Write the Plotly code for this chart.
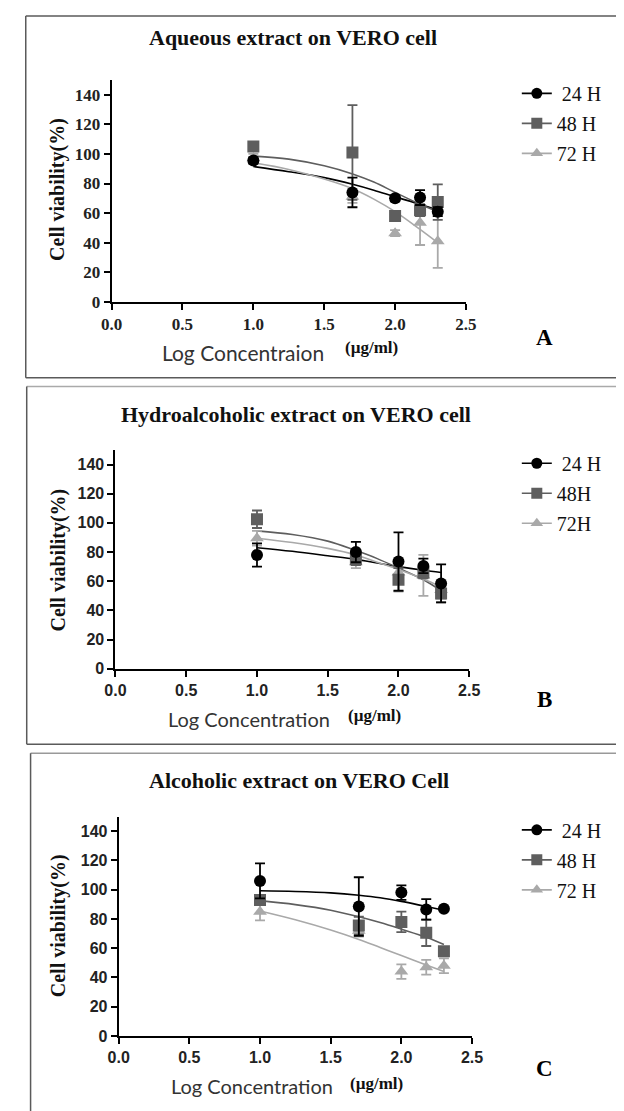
import plotly.graph_objects as go

W, H = 624, 1111

# ---------------- data ----------------
log_conc = [1.0, 1.699, 2.0, 2.176, 2.301]
fit_x = [1.0, 1.25, 1.5, 1.7, 1.85, 2.0, 2.176, 2.301]
series_names = ["24 H", "48 H", "72 H"]

# Panel A - Aqueous extract
a_24_y = [95.5, 74, 70, 70.5, 61]
a_24_err = [2, 10, 2, 5, 3]
a_48_y = [105, 101, 58, 62, 67.5]
a_48_err = [3, 32, 2, 4, 12]
a_72_y = [97, 71, 46.5, 53.5, 41]
a_72_err = [3, 4, 2, 15, 18]
a_24_fit = [91.5, 88, 84, 79.5, 75.5, 71, 66, 62]
a_48_fit = [98.5, 96.5, 92, 86.5, 81, 74, 66, 61]
a_72_fit = [94, 89.5, 83, 76.5, 69.5, 61, 49, 40]

# Panel B - Hydroalcoholic extract
b_24_y = [78, 80, 73.5, 70.5, 58.5]
b_24_err = [8, 7, 20, 5, 13]
b_48_y = [102.5, 75, 61, 66, 51.5]
b_48_err = [6, 4, 8, 4, 6]
b_72_y = [89.5, 73, 66, 64, 54]
b_72_err = [5, 4, 8, 14, 6]
b_24_fit = [83, 80.5, 77.5, 75, 72.5, 70, 67.5, 66]
b_48_fit = [94.5, 92, 87.5, 81, 75.5, 69, 61, 53.5]
b_72_fit = [89.5, 86.5, 82.5, 78, 73, 68, 61.5, 56]

# Panel C - Alcoholic extract
c_24_y = [106, 88.5, 98, 86.5, 87]
c_24_err = [12, 20, 5, 7, 1]
c_48_y = [93, 75.5, 78, 70.5, 58]
c_48_err = [3, 6, 7, 9, 2]
c_72_y = [85, 72, 44, 47, 48]
c_72_err = [6, 4, 5, 5, 5]
c_24_fit = [99.3, 98.8, 97.8, 96.2, 94.5, 92, 88.5, 86]
c_48_fit = [92.5, 89.8, 86, 81.5, 77.5, 73, 67.5, 62.5]
c_72_fit = [85.5, 79.5, 72.5, 66, 60.5, 55, 48.5, 44]

y_ticks = [0, 20, 40, 60, 80, 100, 120, 140]
x_ticks = [0.0, 0.5, 1.0, 1.5, 2.0, 2.5]

panel_titles = ["Aqueous extract on VERO cell",
                "Hydroalcoholic extract on VERO cell",
                "Alcoholic extract on VERO Cell"]
x_titles = ["Log Concentraion", "Log Concentration", "Log Concentration"]
legend_labels = [[" 24 H", "48 H", "72 H"], [" 24 H", "48H", "72H"], [" 24 H", "48 H", "72 H"]]
panel_letters = ["A", "B", "C"]

# ---------------- styling ----------------
colors = ["#000000", "#5e5e5e", "#a9a9a9"]
symbols = ["circle", "square", "triangle-up"]
SERIF = "Liberation Serif, Times New Roman, serif"
SANS = "Liberation Sans, Arial, sans-serif"


def px_x(x):
    return x / W


def px_y(y):
    return 1 - y / H


# panel geometry in pixels: (x0 of axis, x1 of axis, y of 0, y of 150)
geom = [
    (96.0, 463.3, 296.7, 72.5),
    (100.0, 466.7, 666.7, 446.0),
    (103.3, 469.6, 1037.3, 815.9),
]
tick_fonts = [dict(family=SERIF, size=17, color="#222", weight="bold"),
              dict(family=SANS, size=16, color="#222", weight="bold"),
              dict(family=SANS, size=16, color="#222", weight="bold")]

panels = [
    ([a_24_y, a_48_y, a_72_y], [a_24_err, a_48_err, a_72_err], [a_24_fit, a_48_fit, a_72_fit]),
    ([b_24_y, b_48_y, b_72_y], [b_24_err, b_48_err, b_72_err], [b_24_fit, b_48_fit, b_72_fit]),
    ([c_24_y, c_48_y, c_72_y], [c_24_err, c_48_err, c_72_err], [c_24_fit, c_48_fit, c_72_fit]),
]

fig = go.Figure()
annotations = []
layout_extra = {}

for p, (ys, errs, fits) in enumerate(panels):
    ax = "" if p == 0 else str(p + 1)
    xref, yref = "x" + ax, "y" + ax
    leg = "legend" + ax
    # fitted curves
    for s in range(3):
        fig.add_trace(go.Scatter(
            x=fit_x, y=fits[s], mode="lines", line=dict(color=colors[s], width=1.6, shape="spline"),
            showlegend=False, hoverinfo="skip", xaxis=xref, yaxis=yref))
    # data points, drawn 72 -> 48 -> 24 so 24 H is on top
    for s in [2, 1, 0]:
        fig.add_trace(go.Scatter(
            x=log_conc, y=ys[s], mode="markers",
            marker=dict(symbol=symbols[s], color=colors[s], size=12, line=dict(width=0)),
            error_y=dict(type="data", array=errs[s], color=colors[s], thickness=1.8, width=5),
            showlegend=False, xaxis=xref, yaxis=yref))
    # legend entries
    for s in range(3):
        fig.add_trace(go.Scatter(
            x=[None], y=[None], mode="lines+markers", name=legend_labels[p][s],
            marker=dict(symbol=symbols[s], color=colors[s], size=11),
            line=dict(color=colors[s], width=1.6),
            legend=leg, legendgroup=f"g{p}{s}", legendrank=s + 1,
            xaxis=xref, yaxis=yref))

    x0, x1, y0, y150 = geom[p]
    layout_extra["xaxis" + ax] = dict(
        domain=[px_x(x0), px_x(x1)], range=[0, 2.5], tickvals=x_ticks,
        ticktext=[f"{v:.1f}" for v in x_ticks], anchor=yref,
        showline=True, linecolor="black", linewidth=2, ticks="outside", ticklen=6,
        tickwidth=2, tickcolor="black", showgrid=False, zeroline=False,
        tickfont=tick_fonts[p])
    layout_extra["yaxis" + ax] = dict(
        domain=[px_y(y0), px_y(y150)], range=[0, 150], tickvals=y_ticks, anchor=xref,
        showline=True, linecolor="black", linewidth=2, ticks="outside", ticklen=6,
        tickwidth=2, tickcolor="black", showgrid=False, zeroline=False,
        tickfont=tick_fonts[p])
    row1 = y0 - 140 * (y0 - y150) / 150
    layout_extra[leg] = dict(
        x=px_x(516), y=px_y(row1 - 21), xanchor="left", yanchor="top",
        font=dict(family=SERIF, size=20, color="#111"), bgcolor="rgba(0,0,0,0)",
        tracegroupgap=1, itemwidth=30)

# text annotations
title_pos = [(284, 30), (287, 410), (290, 780)]
ytitle_pos = [(40, 183), (41, 557), (41, 926)]
xtitle_pos = [(232, 348), (238, 717), (241, 1088)]
xtitle_size = [21, 20, 20]
unit_pos = [(365, 343), (369, 714), (371, 1085)]
letter_pos = [(545, 332), (545, 698), (545, 1070)]
for p in range(3):
    annotations.append(dict(text="<b>" + panel_titles[p] + "</b>", x=px_x(title_pos[p][0]),
                            y=px_y(title_pos[p][1]),
                            xref="paper", yref="paper", showarrow=False, xanchor="center", yanchor="middle",
                            font=dict(family=SERIF, size=22, color="#111")))
    annotations.append(dict(text="<b>Cell viability(%)</b>", x=px_x(ytitle_pos[p][0]), y=px_y(ytitle_pos[p][1]),
                            xref="paper", yref="paper", showarrow=False, textangle=-90,
                            xanchor="center", yanchor="middle",
                            font=dict(family=SERIF, size=20, color="#111")))
    annotations.append(dict(text=x_titles[p], x=px_x(xtitle_pos[p][0]), y=px_y(xtitle_pos[p][1]),
                            xref="paper", yref="paper", showarrow=False, xanchor="center", yanchor="middle",
                            font=dict(family="Lato", size=xtitle_size[p], color="#333")))
    annotations.append(dict(text="<b>(µg/ml)</b>", x=px_x(unit_pos[p][0]), y=px_y(unit_pos[p][1]),
                            xref="paper", yref="paper", showarrow=False, xanchor="center", yanchor="middle",
                            font=dict(family=SERIF, size=17, color="#111")))
    annotations.append(dict(text="<b>" + panel_letters[p] + "</b>", x=px_x(letter_pos[p][0]),
                            y=px_y(letter_pos[p][1]), xref="paper", yref="paper", showarrow=False,
                            xanchor="center", yanchor="middle",
                            font=dict(family=SERIF, size=23, color="#000")))

# panel frames
shapes = []


def line(x0, y0, x1, y1, color="#5a5a5a", width=1.5):
    shapes.append(dict(type="line", xref="paper", yref="paper", x0=px_x(x0), y0=px_y(y0),
                       x1=px_x(x1), y1=px_y(y1), line=dict(color=color, width=width)))


line(7, 8, 630, 8)
line(7, 8, 7, 373)
line(7, 373, 630, 373)
line(8, 382, 630, 382, color="#aaaaaa")
line(8, 382, 8, 743)
line(8, 743, 630, 743)
line(12, 752, 630, 752, color="#999999")
line(12, 752, 12, 1115)

fig.update_layout(
    width=W, height=H, margin=dict(l=0, r=0, t=0, b=0),
    paper_bgcolor="white", plot_bgcolor="white",
    annotations=annotations, shapes=shapes, **layout_extra)

fig.write_html("out.html")
